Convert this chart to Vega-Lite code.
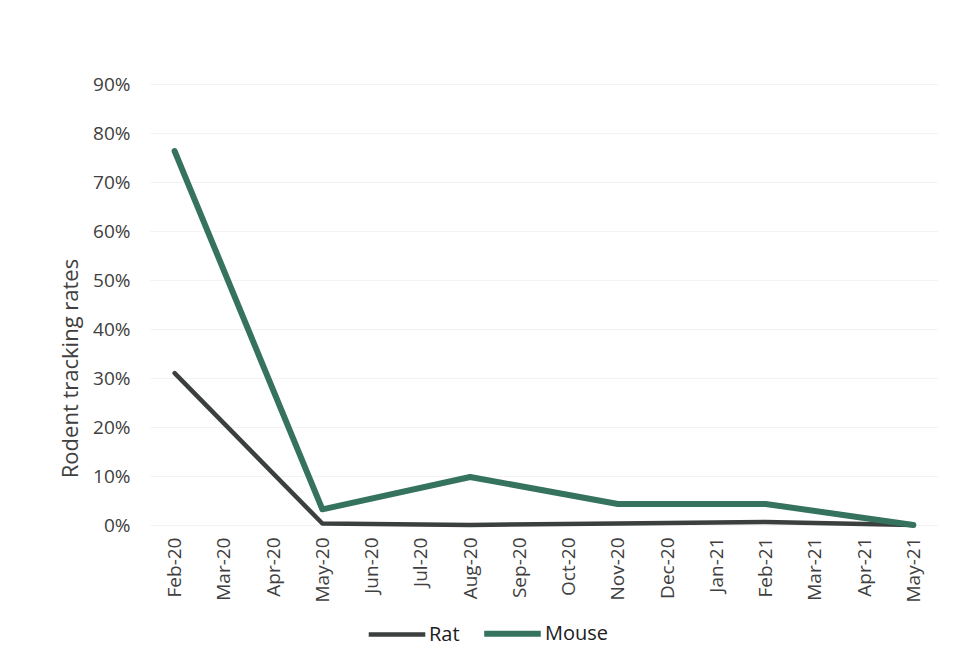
{
  "$schema": "https://vega.github.io/schema/vega-lite/v6.json",
  "autosize": "none",
  "width": 788,
  "height": 441,
  "padding": {"left": 150, "top": 84, "right": 30, "bottom": 146},
  "background": "white",
  "config": {
    "view": {"stroke": null},
    "font": "Open Sans",
    "axis": {"labelColor": "#404040", "titleColor": "#404040", "domain": false, "ticks": false}
  },
  "data": {
    "values": [
      {"month": "Feb-20", "species": "Rat", "rate": 0.31},
      {"month": "May-20", "species": "Rat", "rate": 0.003},
      {"month": "Aug-20", "species": "Rat", "rate": 0.0},
      {"month": "Nov-20", "species": "Rat", "rate": 0.003},
      {"month": "Feb-21", "species": "Rat", "rate": 0.006},
      {"month": "May-21", "species": "Rat", "rate": 0.0},
      {"month": "Feb-20", "species": "Mouse", "rate": 0.763},
      {"month": "May-20", "species": "Mouse", "rate": 0.032},
      {"month": "Aug-20", "species": "Mouse", "rate": 0.098},
      {"month": "Nov-20", "species": "Mouse", "rate": 0.043},
      {"month": "Feb-21", "species": "Mouse", "rate": 0.043},
      {"month": "May-21", "species": "Mouse", "rate": 0.0}
    ]
  },
  "mark": {"type": "line", "strokeCap": "round", "strokeJoin": "round"},
  "encoding": {
    "x": {
      "field": "month",
      "type": "ordinal",
      "sort": null,
      "scale": {
        "type": "point",
        "padding": 0.5,
        "domain": ["Feb-20", "Mar-20", "Apr-20", "May-20", "Jun-20", "Jul-20", "Aug-20", "Sep-20", "Oct-20", "Nov-20", "Dec-20", "Jan-21", "Feb-21", "Mar-21", "Apr-21", "May-21"]
      },
      "axis": {"title": null, "labelAngle": -90, "labelFontSize": 19, "labelPadding": 12, "grid": false}
    },
    "y": {
      "field": "rate",
      "type": "quantitative",
      "scale": {"domain": [0, 0.9], "nice": false},
      "axis": {
        "title": "Rodent tracking rates",
        "titleFontSize": 22,
        "titleFontWeight": "normal",
        "titlePadding": 10,
        "titleY": 284,
        "format": ".0%",
        "values": [0, 0.1, 0.2, 0.3, 0.4, 0.5, 0.6, 0.7, 0.8, 0.9],
        "labelFontSize": 19,
        "labelPadding": 20,
        "grid": true,
        "gridColor": "#f3f3f3"
      }
    },
    "color": {
      "field": "species",
      "type": "nominal",
      "scale": {"domain": ["Rat", "Mouse"], "range": ["#3b3f3e", "#35735e"]},
      "legend": {
        "title": null,
        "orient": "none",
        "direction": "horizontal",
        "legendX": 216,
        "legendY": 518,
        "symbolType": "stroke",
        "symbolSize": 3200,
        "symbolStrokeWidth": 6,
        "labelFontSize": 20,
        "labelColor": "#202020",
        "labelOffset": 1,
        "columnPadding": 12
      }
    },
    "strokeWidth": {
      "field": "species",
      "type": "nominal",
      "scale": {"domain": ["Rat", "Mouse"], "range": [4.5, 6]},
      "legend": null
    }
  }
}
